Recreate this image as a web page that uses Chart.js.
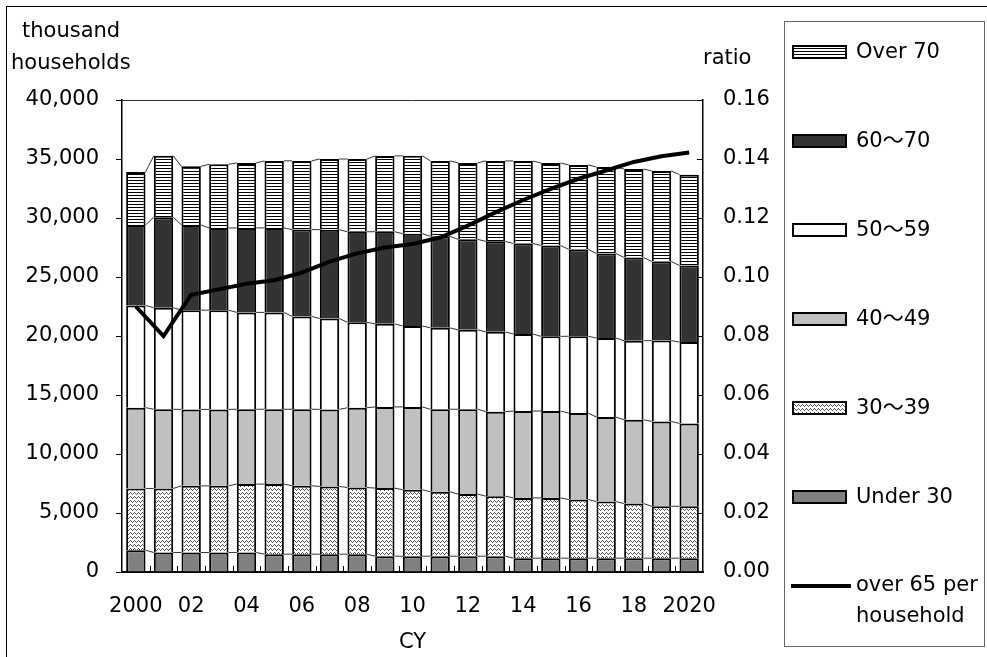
<!DOCTYPE html>
<html>
<head>
<meta charset="utf-8">
<script src="https://cdn.jsdelivr.net/npm/chart.js@4.4.0/dist/chart.umd.min.js"></script>
<style>
  html, body { margin: 0; padding: 0; background: #fff; }
  canvas { display: block; }
</style>
</head>
<body>
<canvas id="chart" width="987" height="657"></canvas>
<script>
// categories (calendar years)
const years = ['2000','01','02','03','04','05','06','07','08','09','10',
               '11','12','13','14','15','16','17','18','19','2020'];

// thousand households by age of household head (stack segments)
const under30 = [1850,1650,1650,1650,1650,1510,1510,1510,1510,1340,1340,1340,1340,1340,1170,1170,1170,1170,1170,1170,1170];
const age30s  = [5230,5430,5650,5650,5800,5940,5800,5740,5650,5770,5630,5460,5260,5090,5110,5110,4970,4800,4630,4400,4400];
const age40s  = [6850,6710,6480,6480,6340,6340,6480,6530,6760,6880,7020,6990,7190,7160,7360,7360,7330,7160,7100,7190,7020];
const age50s  = [8660,8610,8410,8410,8210,8210,7870,7700,7240,7040,6860,6900,6730,6760,6530,6330,6510,6700,6700,6850,6900];
const age60s  = [6820,7670,7220,6960,7160,7160,7360,7530,7670,7810,7820,7760,7670,7670,7670,7700,7360,7160,7050,6710,6480];
const over70  = [4490,5200,4970,5400,5510,5680,5820,5990,6170,6420,6600,6390,6480,6820,6990,6990,7160,7330,7500,7670,7700];

// over-65 persons per household (right axis)
const ratio = [0.0900,0.0800,0.0940,0.0958,0.0977,0.0989,0.1015,0.1052,0.1080,0.1100,0.1112,
               0.1134,0.1174,0.1219,0.1261,0.1299,0.1333,0.1361,0.1390,0.1409,0.1422];

const leftTicks = { min: 0, max: 40000, step: 5000 };
const rightTicks = { min: 0, max: 0.16, step: 0.02 };

const FONT = "'DejaVu Sans', 'Noto Sans CJK JP', sans-serif";
Chart.defaults.font.family = FONT;
Chart.defaults.font.size = 21;
Chart.defaults.color = '#000';

const makePattern = (w, h, draw) => {
    const c = document.createElement('canvas');
    c.width = w; c.height = h;
    const g = c.getContext('2d');
    g.fillStyle = '#fff';
    g.fillRect(0, 0, w, h);
    draw(g);
    return document.getElementById('chart').getContext('2d').createPattern(c, 'repeat');
};

const stripes = makePattern(4, 3, g => {
    g.fillStyle = '#000';
    g.fillRect(0, 0, 4, 1);
});

// small chevrons of dots
const dots = makePattern(4, 4, g => {
    g.fillStyle = '#555';
    [[0,2],[1,1],[2,0],[3,1]].forEach(([x, y]) => g.fillRect(x, y, 1, 1));
});

const barSets = [
    { label: 'Under 30', data: under30, backgroundColor: '#808080' },
    { label: '30～39',   data: age30s,  backgroundColor: dots },
    { label: '40～49',   data: age40s,  backgroundColor: '#c0c0c0' },
    { label: '50～59',   data: age50s,  backgroundColor: '#ffffff' },
    { label: '60～70',   data: age60s,  backgroundColor: '#333333' },
    { label: 'Over 70',  data: over70,  backgroundColor: stripes }
].map(d => ({
    ...d,
    type: 'bar',
    yAxisID: 'y',
    borderColor: '#000',
    borderWidth: 2,
    borderSkipped: 'start',
    barPercentage: 0.7,
    categoryPercentage: 1,
    order: 1
}));

const lineSet = {
    type: 'line',
    label: ['over 65 per', 'household'],
    data: ratio,
    yAxisID: 'y1',
    borderColor: '#000',
    borderWidth: 4,
    pointRadius: 0,
    tension: 0,
    fill: false,
    order: 0
};

// frame, series lines, legend and axis captions
const decor = {
    id: 'decor',
    beforeDraw(chart) {
        const { ctx, width, height } = chart;
        ctx.save();
        ctx.fillStyle = '#fff';
        ctx.fillRect(0, 0, width, height);
        ctx.strokeStyle = '#000';
        ctx.lineWidth = 1;
        ctx.strokeRect(6.5, 6.5, width + 20, height + 20);
        ctx.restore();
    },
    beforeDatasetDraw(chart, args) {
        if (args.meta.type !== 'line') return;
        const { ctx } = chart;
        ctx.save();
        ctx.strokeStyle = '#333';
        ctx.lineWidth = 1;
        barSets.forEach((d, di) => {
            const bars = chart.getDatasetMeta(di).data;
            ctx.beginPath();
            for (let i = 0; i < bars.length - 1; i++) {
                const a = bars[i], b = bars[i + 1];
                ctx.moveTo(a.x + a.width / 2, a.y);
                ctx.lineTo(b.x - b.width / 2, b.y);
            }
            ctx.stroke();
        });
        ctx.restore();
    },
    afterDraw(chart) {
        const { ctx, chartArea: ca, scales } = chart;
        ctx.save();

        // top border of the plot area
        ctx.strokeStyle = '#333';
        ctx.lineWidth = 1;
        ctx.beginPath();
        ctx.moveTo(ca.left, ca.top + 0.5);
        ctx.lineTo(ca.right, ca.top + 0.5);
        ctx.stroke();

        // inward ticks on the right axis
        ctx.strokeStyle = '#000';
        ctx.beginPath();
        for (let v = rightTicks.min; v <= rightTicks.max + 1e-9; v += rightTicks.step) {
            const y = Math.round(scales.y1.getPixelForValue(v)) + 0.5;
            ctx.moveTo(ca.right - 6, y);
            ctx.lineTo(ca.right, y);
        }
        // small inward ticks between categories
        for (let i = 1; i < years.length; i++) {
            const x = Math.round((scales.x.getPixelForValue(i - 1) + scales.x.getPixelForValue(i)) / 2) + 0.5;
            ctx.moveTo(x, ca.bottom);
            ctx.lineTo(x, ca.bottom - 6);
        }
        ctx.stroke();

        // axis captions
        ctx.fillStyle = '#000';
        ctx.font = '21px ' + FONT;
        ctx.textBaseline = 'alphabetic';
        ctx.textAlign = 'left';
        ctx.fillText('thousand', 22, 37);
        ctx.fillText('households', 11, 69);
        ctx.fillText('ratio', 703, 64);

        // legend
        ctx.strokeStyle = '#666';
        ctx.lineWidth = 1;
        ctx.strokeRect(784.5, 21.5, 200, 625);
        const items = [...barSets].reverse();
        ctx.textBaseline = 'middle';
        items.forEach((d, i) => {
            const cy = 52 + i * 89;
            ctx.fillStyle = d.backgroundColor;
            ctx.fillRect(792, cy - 7, 55, 14);
            ctx.strokeStyle = '#000';
            ctx.lineWidth = 2;
            ctx.strokeRect(793, cy - 6, 53, 12);
            ctx.fillStyle = '#000';
            ctx.fillText(d.label, 856, cy + 1);
        });
        const ly = 52 + items.length * 89;
        ctx.strokeStyle = '#000';
        ctx.lineWidth = 4;
        ctx.beginPath();
        ctx.moveTo(791, ly);
        ctx.lineTo(851, ly);
        ctx.stroke();
        ctx.fillText(lineSet.label[0], 856, ly);
        ctx.fillText(lineSet.label[1], 856, ly + 31);

        ctx.restore();
    }
};

new Chart(document.getElementById('chart'), {
    data: {
        labels: years,
        datasets: [...barSets, lineSet]
    },
    options: {
        responsive: false,
        animation: false,
        devicePixelRatio: 1,
        layout: { padding: { top: 100, right: 203, bottom: 0, left: 0 } },
        plugins: {
            legend: { display: false },
            tooltip: { enabled: false }
        },
        scales: {
            x: {
                stacked: true,
                grid: { display: false, drawTicks: false },
                border: { display: true, color: '#000', width: 2 },
                ticks: {
                    autoSkip: false,
                    maxRotation: 0,
                    padding: 22,
                    callback(v, i) { return i % 2 === 0 ? this.getLabelForValue(v) : ''; }
                },
                title: { display: true, text: 'CY', padding: { top: 0, bottom: 2 } },
                afterFit(s) { s.height = 85; }
            },
            y: {
                stacked: true,
                min: leftTicks.min,
                max: leftTicks.max,
                ticks: { stepSize: leftTicks.step, padding: 17 },
                grid: { drawOnChartArea: false, drawTicks: true, tickLength: 6, color: '#000' },
                border: { display: true, color: '#000', width: 1.5 },
                afterFit(s) { s.width = 122; }
            },
            y1: {
                position: 'right',
                min: rightTicks.min,
                max: rightTicks.max,
                ticks: { stepSize: rightTicks.step, padding: 20, callback: v => v.toFixed(2) },
                grid: { display: false, drawTicks: false },
                border: { display: true, color: '#000', width: 1.5 },
                afterFit(s) { s.width = 81; }
            }
        }
    },
    plugins: [decor]
});
</script>
</body>
</html>
